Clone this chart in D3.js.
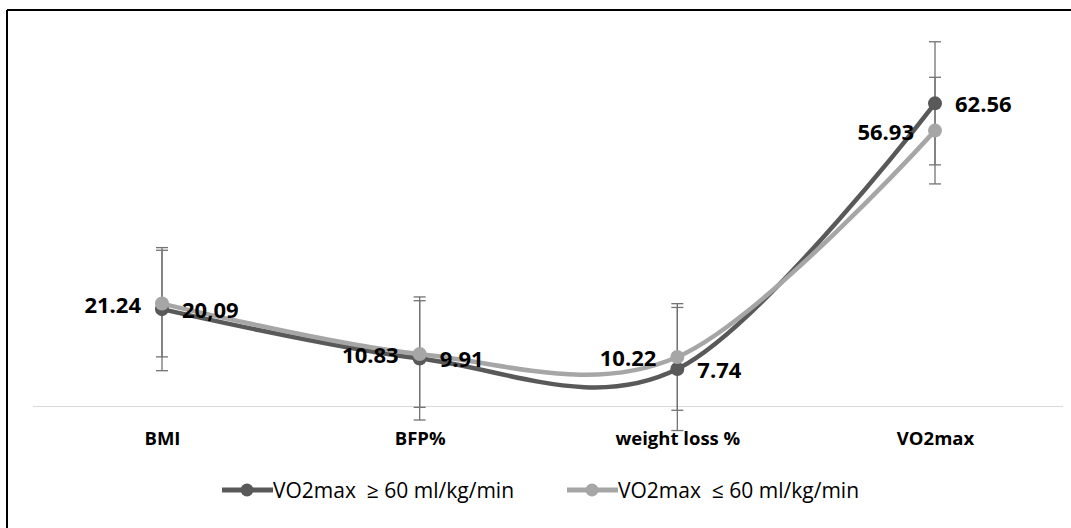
<!DOCTYPE html>
<html>
<head>
<meta charset="utf-8">
<script src="https://cdn.jsdelivr.net/npm/d3@7"></script>
<style>
  html, body { margin: 0; padding: 0; background: #fff; }
  svg { display: block; }
</style>
</head>
<body>
<svg id="chart" width="1071" height="528"></svg>
<script>
const categories = ["BMI", "BFP%", "weight loss %", "VO2max"];
const seriesNames = ["VO2max  \u2265 60 ml/kg/min", "VO2max  \u2264 60 ml/kg/min"];
const highValues = [20.09, 9.91, 7.74, 62.56];
const highLabels = ["20,09", "9.91", "7.74", "62.56"];
const highError = [12.7, 12.7, 12.7, 12.7];
const lowValues = [21.24, 10.83, 10.22, 56.93];
const lowLabels = ["21.24", "10.83", "10.22", "56.93"];
const lowError = [11.0, 11.0, 11.0, 11.0];
const yDomain = [0, 80];

const svg = d3.select("#chart");
const W = 1071, H = 528;

// frame
svg.append("line").attr("x1", 7).attr("y1", 10).attr("x2", W).attr("y2", 10)
  .attr("stroke", "#000").attr("stroke-width", 2);
svg.append("line").attr("x1", 7).attr("y1", 10).attr("x2", 7).attr("y2", H)
  .attr("stroke", "#000").attr("stroke-width", 2);

const x = d3.scalePoint().domain(categories).range([162, 935]).padding(0);
const y = d3.scaleLinear().domain(yDomain).range([406.5, 406.5 - 80 * 4.846]);

// category axis line
svg.append("line").attr("x1", 33).attr("x2", 1063).attr("y1", y(0)).attr("y2", y(0))
  .attr("stroke", "#d9d9d9").attr("stroke-width", 1);

// axis labels
const xAxis = d3.axisBottom(x).tickSize(0).tickPadding(0);
const gx = svg.append("g").attr("transform", `translate(0,${y(0)})`).call(xAxis);
gx.select(".domain").remove();
gx.selectAll("text")
  .attr("dy", null)
  .attr("y", 38)
  .style("font-family", "'Open Sans', sans-serif")
  .style("font-weight", "bold")
  .style("font-size", "18.5px")
  .attr("fill", "#000");

const series = [
  { name: seriesNames[0], values: highValues, labels: highLabels, err: highError, color: "#595959", side: "right" },
  { name: seriesNames[1], values: lowValues, labels: lowLabels, err: lowError, color: "#a6a6a6", side: "left" }
];

const line = d3.line()
  .x((d, i) => x(categories[i]))
  .y(d => y(d))
  .curve(d3.curveCardinal.tension(0));

series.forEach(s => {
  const g = svg.append("g");
  s.values.forEach((v, i) => {
    const cx = x(categories[i]);
    const y1 = y(v + s.err[i]), y2 = y(v - s.err[i]);
    g.append("line").attr("x1", cx).attr("x2", cx).attr("y1", y1).attr("y2", y2)
      .attr("stroke", "#737373").attr("stroke-width", 1.3);
    [y1, y2].forEach(yy => {
      g.append("line").attr("x1", cx - 6).attr("x2", cx + 6).attr("y1", yy).attr("y2", yy)
        .attr("stroke", "#737373").attr("stroke-width", 1.3);
    });
  });
});

series.forEach(s => {
  const g = svg.append("g");
  g.append("path").datum(s.values).attr("d", line)
    .attr("fill", "none").attr("stroke", s.color).attr("stroke-width", 4.5)
    .attr("stroke-linecap", "round").attr("stroke-linejoin", "round");
  g.selectAll("circle").data(s.values).join("circle")
    .attr("cx", (d, i) => x(categories[i])).attr("cy", d => y(d)).attr("r", 7)
    .attr("fill", s.color);
});

// data labels
series.forEach(s => {
  svg.append("g").selectAll("text").data(s.values).join("text")
    .attr("x", (d, i) => x(categories[i]) + (s.side === "right" ? 20 : -21))
    .attr("y", d => y(d) + 9)
    .attr("text-anchor", s.side === "right" ? "start" : "end")
    .style("font-family", "'Open Sans', sans-serif")
    .style("font-weight", "bold")
    .style("font-size", "22px")
    .attr("fill", "#000")
    .text((d, i) => s.labels[i]);
});

// legend
const legendItems = [
  { s: series[0], x0: 222 },
  { s: series[1], x0: 567 }
];
legendItems.forEach(it => {
  const g = svg.append("g").attr("transform", `translate(${it.x0},490)`);
  g.append("line").attr("x1", 0).attr("x2", 51).attr("y1", 0).attr("y2", 0)
    .attr("stroke", it.s.color).attr("stroke-width", 5);
  g.append("circle").attr("cx", 25).attr("cy", 0).attr("r", 6.5).attr("fill", it.s.color);
  g.append("text").attr("x", 51).attr("y", 7.5)
    .attr("xml:space", "preserve")
    .style("white-space", "pre")
    .style("font-family", "'Open Sans', sans-serif")
    .style("font-size", "21px")
    .attr("fill", "#000")
    .text(it.s.name);
});
</script>
</body>
</html>
